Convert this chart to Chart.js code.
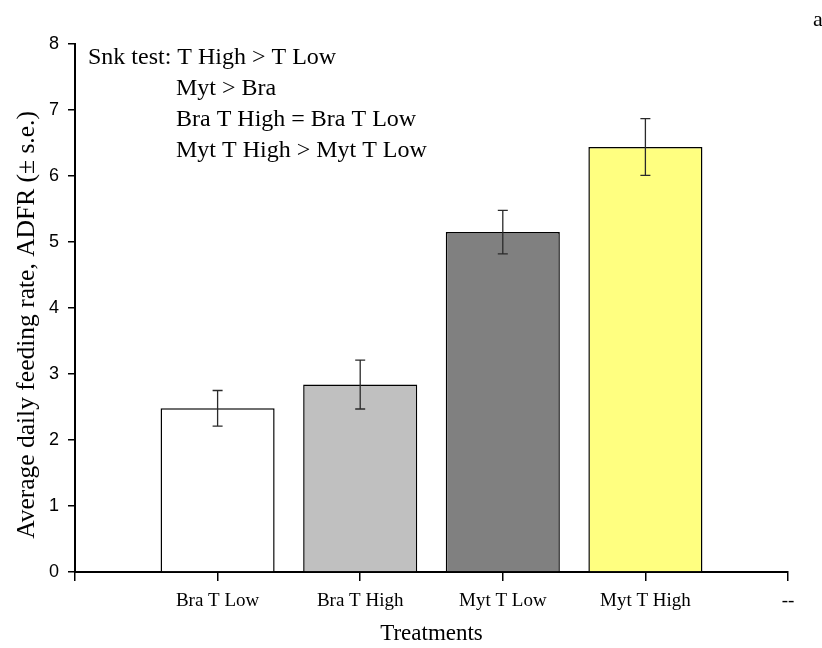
<!DOCTYPE html>
<html>
<head>
<meta charset="utf-8">
<script src="https://cdn.jsdelivr.net/npm/chart.js@4/dist/chart.umd.min.js"></script>
<style>
  html, body { margin: 0; padding: 0; background: #fff; }
  #wrap { width: 822px; height: 648px; position: relative; }
</style>
</head>
<body>
<div id="wrap"><canvas id="c" width="822" height="648"></canvas></div>
<script>
// Treatments, mean daily feeding rate and standard error
const treatments = ['Bra T Low', 'Bra T High', 'Myt T Low', 'Myt T High'];
const adfr = [2.48, 2.84, 5.15, 6.44];
const stdErr = [0.27, 0.37, 0.33, 0.43];
const barColors = ['#ffffff', '#c0c0c0', '#808080', '#ffff80'];
const yMin = 0, yMax = 8, yStep = 1;
const snkLines = ['Snk test: T High > T Low', 'Myt > Bra', 'Bra T High = Bra T Low', 'Myt T High > Myt T Low'];
const yTitle = 'Average daily feeding rate, ADFR (\u00b1 s.e.)';
const xTitle = 'Treatments';
const panelTag = 'a';

// x axis slots: an empty slot at the origin and a trailing "--" slot
const xLabels = [''].concat(treatments, ['--']);
const barData = [null].concat(adfr, [null]);
const errData = [null].concat(stdErr, [null]);
const fillData = ['#ffffff'].concat(barColors, ['#ffffff']);

const serif = "'Liberation Serif', 'Times New Roman', serif";
const sans = "'Liberation Sans', Arial, sans-serif";

const errorBars = {
  id: 'errorBars',
  afterDatasetsDraw(chart) {
    const {ctx, scales: {x, y}} = chart;
    ctx.save();
    ctx.strokeStyle = '#2a2a2a';
    ctx.lineWidth = 1.3;
    barData.forEach((v, i) => {
      if (v === null) return;
      const px = x.getPixelForValue(i);
      const top = y.getPixelForValue(v + errData[i]);
      const bot = y.getPixelForValue(v - errData[i]);
      const cap = 5;
      ctx.beginPath();
      ctx.moveTo(px, top); ctx.lineTo(px, bot);
      ctx.moveTo(px - cap, top); ctx.lineTo(px + cap, top);
      ctx.moveTo(px - cap, bot); ctx.lineTo(px + cap, bot);
      ctx.stroke();
    });
    ctx.restore();
  }
};

const annotations = {
  id: 'annotations',
  afterDraw(chart) {
    const {ctx, chartArea} = chart;
    ctx.save();
    ctx.fillStyle = '#000';
    ctx.textBaseline = 'middle';
    ctx.textAlign = 'left';
    ctx.font = '24px ' + serif;
    const x0 = chartArea.left + 13;
    const x1 = chartArea.left + 101;
    const y0 = chartArea.top + 14;
    snkLines.forEach((t, i) => {
      ctx.fillText(t, i === 0 ? x0 : x1, y0 + i * 31);
    });

    // y axis title
    ctx.save();
    ctx.translate(27, (chartArea.top + chartArea.bottom) / 2 + 17);
    ctx.rotate(-Math.PI / 2);
    ctx.textAlign = 'center';
    ctx.font = '25.5px ' + serif;
    ctx.fillText(yTitle, 0, 0);
    ctx.restore();

    // panel tag
    ctx.font = '22px ' + serif;
    ctx.textBaseline = 'alphabetic';
    ctx.fillText(panelTag, 813, 26);
    ctx.restore();
  }
};

new Chart(document.getElementById('c'), {
  type: 'bar',
  data: {
    labels: xLabels,
    datasets: [{
      data: barData,
      backgroundColor: fillData,
      borderColor: '#000',
      borderWidth: 1.5,
      barPercentage: 0.8,
      categoryPercentage: 1
    }]
  },
  options: {
    responsive: false,
    animation: false,
    events: [],
    layout: { padding: { top: 44, right: 34, left: 0, bottom: 0 } },
    plugins: { legend: { display: false }, tooltip: { enabled: false } },
    scales: {
      x: {
        type: 'category',
        offset: false,
        afterFit(s) { s.height = 76; },
        border: { display: true, color: '#000', width: 2 },
        grid: { offset: false, drawOnChartArea: false, drawTicks: true, tickLength: 9, color: '#000', lineWidth: 1.5 },
        ticks: { color: '#000', font: { family: serif, size: 19 }, padding: 9, maxRotation: 0, autoSkip: false },
        title: { display: true, text: xTitle, color: '#000', font: { family: serif, size: 23 }, padding: { top: 0, bottom: 0 } }
      },
      y: {
        min: yMin,
        max: yMax,
        afterFit(s) { s.width = 75; },
        border: { display: true, color: '#000', width: 2 },
        grid: { drawOnChartArea: false, drawTicks: true, tickLength: 7, color: '#000', lineWidth: 1.5 },
        ticks: { stepSize: yStep, color: '#000', font: { family: sans, size: 18 }, padding: 9 }
      }
    }
  },
  plugins: [errorBars, annotations]
});
</script>
</body>
</html>
